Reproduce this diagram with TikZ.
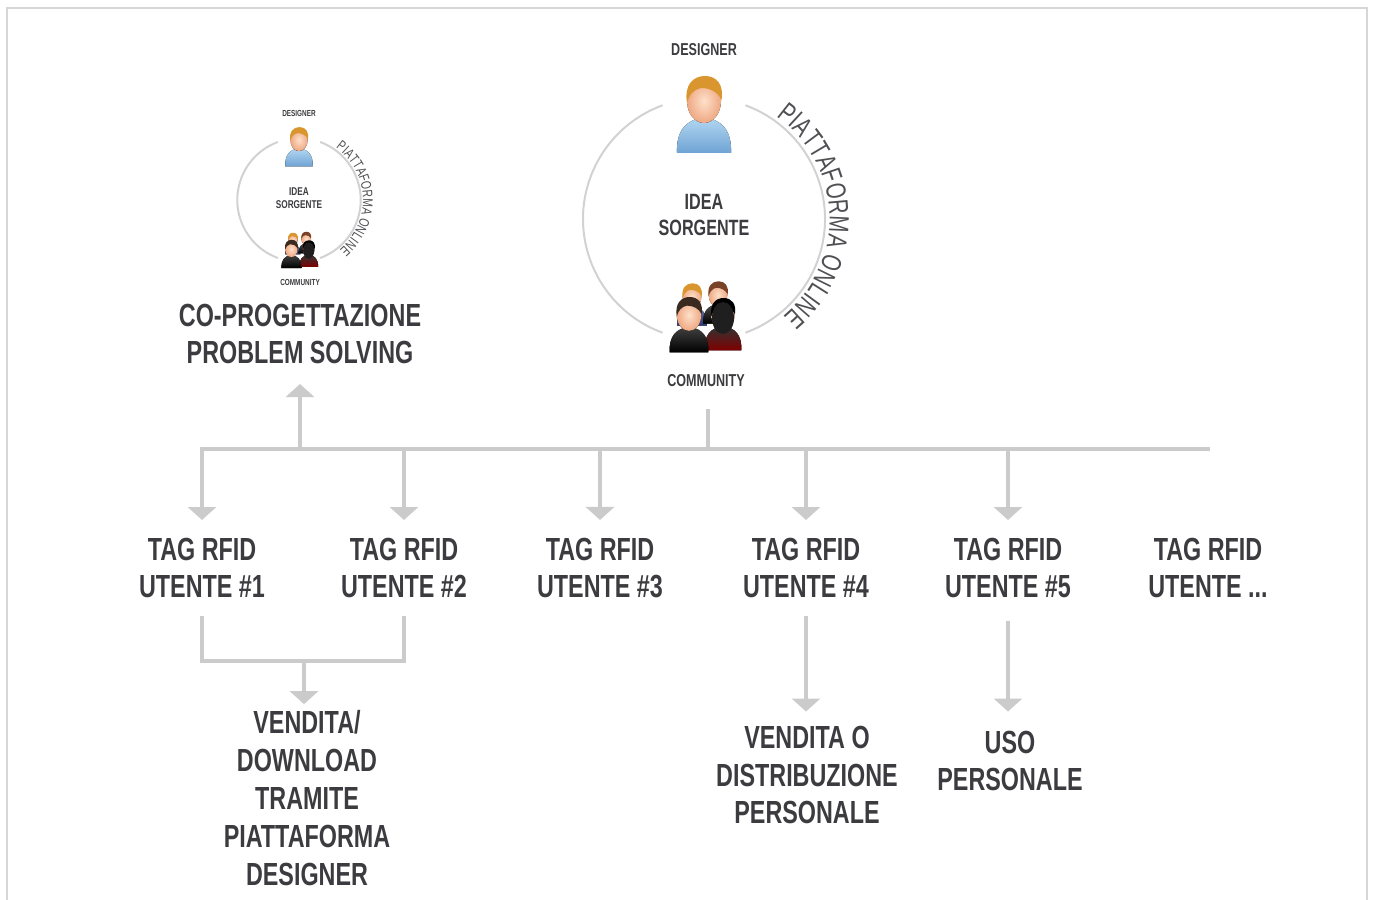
\documentclass[tikz,border=0pt]{standalone}
\usepackage{fontspec}
\setmainfont{Liberation Sans}[FakeStretch=0.73]
\usetikzlibrary{arrows.meta,decorations.text}

\definecolor{ink}{HTML}{3C3C40}
\definecolor{inklight}{HTML}{505054}
\definecolor{wiregray}{HTML}{CBCBCB}
\definecolor{ringgray}{HTML}{D2D2D2}
\definecolor{framegray}{HTML}{D6D6D6}
\definecolor{skin}{HTML}{EFA883}
\definecolor{skinlight}{HTML}{FDE0CA}
\definecolor{blond}{HTML}{D9962E}
\definecolor{hairbrown}{HTML}{7A4226}
\definecolor{hairdark}{HTML}{3B2A20}
\definecolor{shirt}{HTML}{B2D6F2}
\definecolor{shirtdark}{HTML}{6FA3D4}
\definecolor{navy}{HTML}{2B3A78}

\tikzset{
  wire/.style={wiregray, line width=0.35mm},
  feed/.style={-{Triangle[width=2.8mm,length=1.3mm]}},
  ring/.style={ringgray, line width=0.2mm},
  bigtext/.style={ink, font=\bfseries\fontsize{9.1}{10.8}\selectfont, align=center, inner sep=0pt},
  ideatext/.style={ink, font=\bfseries\fontsize{6.3}{7.4}\selectfont, align=center, inner sep=0pt},
  roletext/.style={ink, font=\bfseries\fontsize{4.9}{6}\selectfont, inner sep=0pt},
  pics/person/.style n args={3}{code={
    \fill[top color=#2, bottom color=#3] (-27,52) .. controls (-28,30) and (-18,18) .. (0,17)
      .. controls (18,18) and (28,30) .. (27,52) -- cycle;
    \fill[skin!90!black] (-6,12) rectangle (6,21);
    \fill[inner color=skinlight, outer color=skin] (0,0) ellipse[x radius=17, y radius=22];
    \fill[#1] (-17,2) .. controls (-20,-16) and (-11,-25) .. (1,-25)
      .. controls (13,-25) and (20,-16) .. (17.5,-1)
      .. controls (14,-9) and (6,-13) .. (-3,-13)
      .. controls (-10,-12) and (-15,-6) .. (-17,2) -- cycle;
  }},
  pics/crowd/.style={code={
    \pic[scale=0.55] at (-14,-24) {person={blond}{navy!70!white}{navy}};
    \pic[scale=0.55] at (12,-26) {person={hairbrown}{black!70}{black}};
    \pic[scale=0.68] at (17,-6) {person={black}{black!80}{red!50!black}};
    \fill[black!88] (17,-3) ellipse[x radius=11, y radius=16];
    \pic[scale=0.72] at (-17,-6) {person={hairdark}{black!75}{black}};
  }},
  pics/cycle/.style 2 args={code={
    \draw[ring] (-70:121) arc[start angle=-70, end angle=70, radius=121];
    \draw[ring] (110:121) arc[start angle=110, end angle=250, radius=121];
    \path[decorate, decoration={text along path, text align=center, raise=#2, text color=inklight,
      text={|\fontsize{#1}{9}\selectfont|PIATTAFORMA ONLINE}}]
      (-62:122) arc[start angle=-62, end angle=58, radius=122];
    \node[roletext] (-designer) at (0,-169) {DESIGNER};
    \node[ideatext] (-idea) at (0,-4) {IDEA\\SORGENTE};
    \node[roletext] (-community) at (2,162) {COMMUNITY};
    \pic at (0,-118) {person={blond}{shirt}{shirtdark}};
    \pic at (2,102) {crowd};
  }}
}

\begin{document}
\begin{tikzpicture}[x=0.1mm, y=-0.1mm]
\useasboundingbox (0,0) rectangle (1373,900);
\draw[framegray, line width=0.25mm] (7,900) -- (7,8) -- (1367,8) -- (1367,900);

\pic (src) at (704,219) {cycle={7.9}{1pt}};
\pic[scale=0.51, transform shape] (cop) at (299,200) {cycle={4.03}{0.5pt}};

\node[bigtext] (coprog) at (300,334) {CO-PROGETTAZIONE\\PROBLEM SOLVING};
\foreach \i/\x in {1/202, 2/404, 3/600, 4/806, 5/1008}
  \node[bigtext] (tag\i) at (\x,568) {TAG RFID\\UTENTE \#\i};
\node[bigtext] (tag6) at (1208,568) {TAG RFID\\UTENTE ...};
\node[bigtext] (vend) at (307,798) {VENDITA/\\DOWNLOAD\\TRAMITE\\PIATTAFORMA\\DESIGNER};
\node[bigtext] (distr) at (807,775) {VENDITA O\\DISTRIBUZIONE\\PERSONALE};
\node[bigtext] (uso) at (1010,761) {USO\\PERSONALE};

\coordinate (bus) at (708,449);
\coordinate (join) at (304,661);
\draw[wire, line cap=rect] (bus -| tag1) -- (bus -| tag6);
\draw[wire, shorten >=2.1mm] (bus) -- (bus |- src-community.south);
\draw[wire, feed, shorten >=1.9mm] (bus -| coprog) -- (coprog.south);
\foreach \i in {1,...,5}
  \draw[wire, feed, shorten >=1.7mm] (bus -| tag\i) -- (tag\i.north);
\draw[wire, shorten <=1.7mm, shorten >=1.7mm] (tag1.south) |- (join) -| (tag2.south);
\draw[wire, feed, shorten >=0.55mm] (join) -- (join |- vend.north);
\draw[wire, feed, shorten <=1.7mm, shorten >=1.35mm] (tag4.south) -- (tag4.south |- distr.north);
\draw[wire, feed, shorten <=2.2mm, shorten >=1.85mm] (tag5.south) -- (tag5.south |- uso.north);
\end{tikzpicture}
\end{document}
